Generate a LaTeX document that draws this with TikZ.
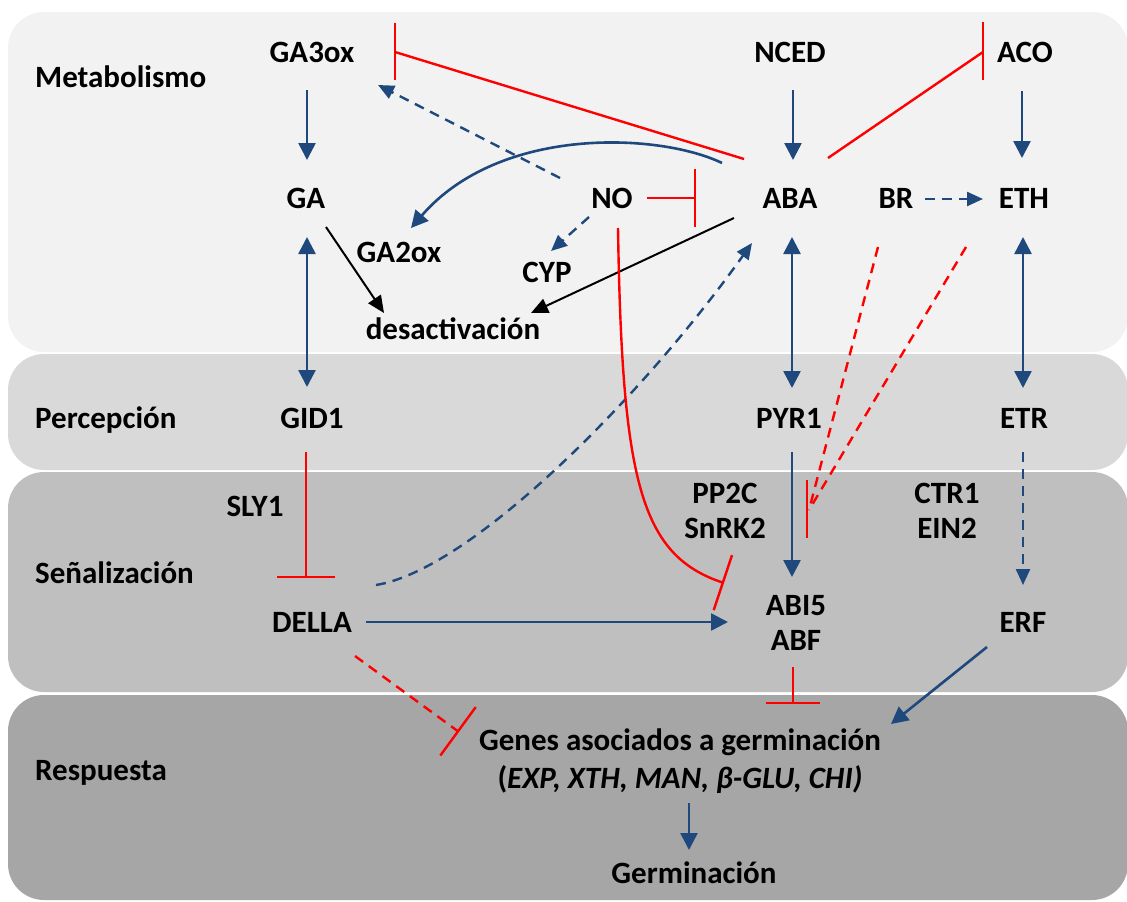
\documentclass[tikz,border=0pt]{standalone}
\usepackage{fontspec}
\setmainfont{Carlito}
\usetikzlibrary{arrows.meta,calc}
\definecolor{bandA}{HTML}{F2F2F2}
\definecolor{bandB}{HTML}{D9D9D9}
\definecolor{bandC}{HTML}{BFBFBF}
\definecolor{bandD}{HTML}{A6A6A6}
\definecolor{arrowblue}{HTML}{1F497D}
\definecolor{inhred}{HTML}{FF0000}
\begin{document}
\begin{tikzpicture}[x=1pt,y=-1pt,
  lbl/.style={font=\fontsize{31}{37}\selectfont\bfseries, inner sep=0pt, text=black, anchor=base},
  bandbox/.style={rounded corners=36pt},
  act/.style={draw=arrowblue, line width=2.6pt, -{Triangle[width=17pt,length=17pt]}},
  bact/.style={draw=arrowblue, line width=2.6pt, {Triangle[width=17pt,length=17pt]}-{Triangle[width=17pt,length=17pt]}},
  dact/.style={draw=arrowblue, line width=2.4pt, dash pattern=on 10pt off 7pt, -{Triangle[width=14pt,length=16pt]}},
  redline/.style={draw=inhred, line width=2.4pt},
  inh/.style={redline, -{Bar[width=58pt]}},
  dinh/.style={redline, dash pattern=on 10pt off 7pt, -{Bar[width=60pt]}},
  dred/.style={redline, dash pattern=on 10pt off 7pt},
  deact/.style={draw=black, line width=2pt, -{Triangle[width=15pt,length=17pt]}},
]
\useasboundingbox (0,0) rectangle (1127,902);
\fill[white] (0,0) rectangle (1127,902);
% bands
\fill[bandA, bandbox] (8,12) rectangle (1128,352);
\fill[bandB, bandbox] (8,354) rectangle (1128,470);
\fill[bandC, bandbox] (8,472) rectangle (1128,692);
\fill[bandD, bandbox] (8,695) rectangle (1128,900);

% band labels
\node[lbl, anchor=base west] (lmet) at (35,87) {Metabolismo};
\node[lbl, anchor=base west] (lper) at (35,428) {Percepción};
\node[lbl, anchor=base west] (lsen) at (35,583) {Señalización};
\node[lbl, anchor=base west] (lres) at (35,780) {Respuesta};

% nodes
\node[lbl] (GA3ox) at (312,62) {GA3ox};
\node[lbl] (NCED) at (790,62) {NCED};
\node[lbl] (ACO) at (1025,62) {ACO};
\node[lbl] (GA) at (306,208) {GA};
\node[lbl] (NO) at (612,208) {NO};
\node[lbl] (ABA) at (790,208) {ABA};
\node[lbl] (BR) at (896,208) {BR};
\node[lbl] (ETH) at (1024,208) {ETH};
\node[lbl] (GA2ox) at (399,262) {GA2ox};
\node[lbl] (CYP) at (547,282) {CYP};
\node[lbl] (desact) at (453,339) {desactivación};
\node[lbl] (GID1) at (312,428) {GID1};
\node[lbl] (PYR1) at (789,428) {PYR1};
\node[lbl] (ETR) at (1024,428) {ETR};
\node[lbl] (SLY1) at (255,516) {SLY1};
\node[lbl] (PP2C) at (725,503) {PP2C};
\node[lbl] (SnRK2) at (725,538) {SnRK2};
\node[lbl] (CTR1) at (947,503) {CTR1};
\node[lbl] (EIN2) at (947,538) {EIN2};
\node[lbl] (DELLA) at (312,632) {DELLA};
\node[lbl] (ABI5) at (796,615) {ABI5};
\node[lbl] (ABF) at (796,650) {ABF};
\node[lbl] (ERF) at (1023,632) {ERF};
\node[lbl] (genes) at (680,750) {Genes asociados a germinación};
\node[lbl] (genesb) at (680,788) {(\textit{EXP, XTH, MAN, β-GLU, CHI)}};
\node[lbl] (germ) at (694,883) {Germinación};

% blue activations
\draw[act] ($(GA3ox.base)+(-5,28)$) -- ($(GA.base)+(1,-48)$);
\draw[act] ($(NCED.base)+(3,28)$) -- ($(ABA.base)+(3,-48)$);
\draw[act] ($(ACO.base)+(-3,29)$) -- ($(ETH.base)+(-2,-50)$);
\draw[bact] ($(GA.base)+(1,29)$) -- ($(GID1.base)+(-5,-41)$);
\draw[bact] ($(ABA.base)+(2,29)$) -- ($(PYR1.base)+(3,-40)$);
\draw[bact] ($(ETH.base)+(-1,29)$) -- ($(ETR.base)+(-1,-40)$);
\draw[dact] ($(BR.base)+(29,-9)$) -- ($(ETH.base)+(-41,-9)$);
\draw[dact] ($(NO.base)+(-52,-30)$) -- ($(GA3ox.base)+(66,23)$);
\draw[act] ($(ABA.base)+(-68,-45)$) .. controls (660,133) and (500,125) .. ($(GA2ox.base)+(12,-34)$);
\draw[dact] ($(NO.base)+(-23,9)$) -- ($(CYP.base)+(4,-31)$);
\draw[dact] ($(DELLA.base)+(64,-47)$) .. controls (470,570) and (640,400) .. ($(ABA.base)+(-38,35)$);
\draw[act] ($(DELLA.base)+(54,-10)$) -- ($(ABI5.base)+(-68,7)$);
\draw[act] ($(PYR1.base)+(3,24)$) -- ($(ABI5.base)+(-4,-38)$);
\draw[dact] ($(ETR.base)+(-1,24)$) -- ($(ERF.base)+(0,-47)$);
\draw[act] ($(ERF.base)+(-36,15)$) -- ($(genes.base)+(211,-26)$);
\draw[act] ($(genesb.base)+(9,15)$) -- ($(germ.base)+(-5,-33)$);

% black deactivation
\draw[deact] ($(GA.base)+(20,19)$) -- ($(desact.base)+(-69,-26)$);
\draw[deact] ($(ABA.base)+(-56,10)$) -- ($(desact.base)+(78,-26)$);

% red inhibitions
\draw[inh] ($(NO.base)+(35,-10)$) -- ($(ABA.base)+(-94,-10)$);
\draw[redline] ($(ABA.base)+(-46,-49)$) -- ($(GA3ox.base)+(83,-10)$);
\draw[redline] ($(GA3ox.base)+(83,-39)$) -- ($(GA3ox.base)+(83,18)$);
\draw[redline] ($(ABA.base)+(38,-50)$) -- ($(ACO.base)+(-42,-10)$);
\draw[redline] ($(ACO.base)+(-42,-40)$) -- ($(ACO.base)+(-42,18)$);
\draw[inh] ($(NO.base)+(6,20)$) .. controls (622,480) and (640,555) .. ($(ABI5.base)+(-72,-32)$);
\draw[inh] ($(GID1.base)+(-6,24)$) -- ($(DELLA.base)+(-6,-54)$);
\draw[redline, -{Bar[width=54pt]}] ($(ABF.base)+(-3,17)$) -- ($(genes.base)+(113,-46)$);
\draw[dinh] ($(DELLA.base)+(43,24)$) -- ($(genes.base)+(-221,-18)$);
\coordinate (hit) at (809,510);
\draw[dred] ($(BR.base)+(-18,39)$) -- (hit);
\draw[dred] ($(ETH.base)+(-58,39)$) -- (hit);
\draw[redline] (807,480) -- (807,538);
\end{tikzpicture}
\end{document}
